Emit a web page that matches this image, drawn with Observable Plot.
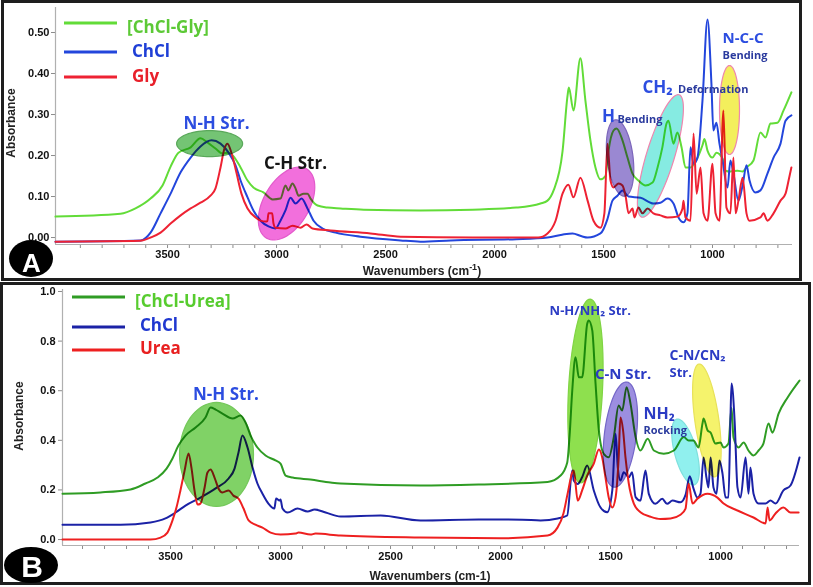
<!DOCTYPE html>
<html>
<head>
<meta charset="utf-8">
<script src="https://cdn.jsdelivr.net/npm/d3@7"></script>
<script src="https://cdn.jsdelivr.net/npm/@observablehq/plot@0.6"></script>
<style>
  body { margin: 0; background: #fff; }
  #root { position: relative; width: 813px; height: 587px; overflow: hidden; background: #fff; }
  .plotbox { position: absolute; left: 0; }
  #root svg { display: block; }
  #overlay { position: absolute; left: 0; top: 0; pointer-events: none; }
  [aria-label="dot"] { mix-blend-mode: multiply; }
  [aria-label$="axis tick"] path, [aria-label$="-axis"] .tick line { stroke: #8c8c8c; }
</style>
</head>
<body>
<div id="root">
  <div id="plotA" class="plotbox" style="top:0px"></div>
  <div id="plotB" class="plotbox" style="top:281px"></div>
  <svg id="overlay" width="813" height="587"></svg>
</div>
<script>
// ---------------- DATA (wavenumber cm-1, absorbance) ----------------
// Panel A
const mixGlyA = [[4014,0.051],[3716,0.058],[3647,0.071],[3578,0.095],[3523,0.127],[3486,0.173],[3450,0.207],[3394,0.220],[3349,0.242],[3317,0.232],[3280,0.217],[3248,0.205],[3220,0.207],[3206,0.203],[3165,0.171],[3133,0.139],[3106,0.122],[3060,0.110],[3018,0.093],[2982,0.095],[2959,0.127],[2946,0.115],[2927,0.132],[2913,0.120],[2899,0.102],[2876,0.107],[2858,0.107],[2844,0.095],[2812,0.078],[2766,0.073],[2706,0.071],[2600,0.068],[2340,0.066],[2100,0.068],[1900,0.073],[1789,0.083],[1757,0.090],[1729,0.115],[1688,0.210],[1665,0.346],[1659,0.366],[1638,0.310],[1606,0.437],[1583,0.334],[1560,0.237],[1537,0.171],[1514,0.142],[1491,0.150],[1477,0.212],[1454,0.261],[1440,0.266],[1413,0.237],[1390,0.195],[1367,0.156],[1340,0.139],[1307,0.127],[1275,0.134],[1252,0.171],[1230,0.220],[1211,0.278],[1202,0.285],[1179,0.229],[1161,0.256],[1142,0.220],[1124,0.171],[1101,0.171],[1078,0.185],[1046,0.225],[1037,0.240],[1023,0.212],[1000,0.195],[982,0.207],[954,0.193],[941,0.163],[918,0.161],[885,0.163],[862,0.161],[844,0.171],[812,0.188],[780,0.256],[757,0.244],[734,0.278],[702,0.280],[674,0.310],[638,0.354]];
const chclA = [[4014,-0.010],[3624,-0.007],[3578,0.012],[3532,0.059],[3486,0.107],[3440,0.159],[3394,0.195],[3349,0.222],[3298,0.237],[3257,0.229],[3220,0.207],[3188,0.176],[3165,0.139],[3133,0.098],[3106,0.066],[3073,0.041],[3037,0.027],[3005,0.022],[2982,0.041],[2959,0.066],[2936,0.097],[2913,0.083],[2885,0.095],[2858,0.071],[2830,0.041],[2789,0.022],[2729,0.012],[2615,0.002],[2431,-0.007],[2340,-0.010],[2200,-0.007],[1900,-0.004],[1757,0.000],[1690,0.007],[1642,0.010],[1600,0.003],[1573,0.000],[1514,0.010],[1482,0.045],[1459,0.090],[1436,0.102],[1413,0.115],[1385,0.100],[1330,0.097],[1271,0.083],[1239,0.085],[1207,0.095],[1179,0.083],[1156,0.049],[1133,0.037],[1115,0.059],[1101,0.220],[1087,0.180],[1069,0.195],[1046,0.334],[1023,0.532],[1005,0.376],[996,0.261],[982,0.280],[968,0.229],[954,0.188],[931,0.122],[918,0.188],[904,0.156],[881,0.090],[862,0.127],[844,0.176],[830,0.139],[803,0.110],[780,0.115],[748,0.156],[720,0.195],[688,0.229],[665,0.285],[638,0.298]];
const glyA = [[4014,-0.010],[3624,-0.008],[3578,0.000],[3532,0.012],[3486,0.034],[3440,0.054],[3394,0.071],[3349,0.085],[3303,0.102],[3280,0.120],[3257,0.171],[3239,0.217],[3225,0.229],[3206,0.205],[3183,0.156],[3161,0.107],[3133,0.071],[3096,0.049],[3050,0.039],[3042,0.040],[3037,0.059],[3020,0.059],[3014,0.034],[3005,0.024],[2959,0.022],[2927,0.029],[2890,0.024],[2862,0.032],[2835,0.022],[2752,0.017],[2569,0.010],[2431,0.002],[2100,0.000],[1800,0.000],[1757,0.010],[1720,0.041],[1688,0.107],[1661,0.129],[1638,0.098],[1606,0.146],[1573,0.090],[1546,0.041],[1514,0.024],[1496,0.059],[1482,0.229],[1468,0.139],[1454,0.122],[1431,0.132],[1413,0.127],[1399,0.102],[1385,0.059],[1367,0.071],[1358,0.049],[1340,0.073],[1321,0.059],[1298,0.071],[1271,0.059],[1239,0.054],[1207,0.049],[1161,0.051],[1138,0.070],[1133,0.090],[1124,0.049],[1101,0.041],[1087,0.254],[1073,0.107],[1055,0.171],[1041,0.059],[1023,0.041],[1000,0.180],[986,0.059],[968,0.041],[950,0.310],[936,0.073],[918,0.059],[904,0.195],[894,0.059],[881,0.090],[862,0.146],[844,0.059],[830,0.041],[780,0.049],[766,0.059],[748,0.041],[720,0.059],[688,0.090],[665,0.107],[651,0.139],[638,0.171]];

// Panel B
const mixUreaB = [[3991,0.185],[3818,0.190],[3682,0.202],[3614,0.226],[3559,0.250],[3518,0.286],[3491,0.327],[3464,0.379],[3432,0.419],[3386,0.452],[3341,0.492],[3318,0.532],[3295,0.524],[3264,0.508],[3218,0.488],[3182,0.500],[3159,0.472],[3136,0.419],[3105,0.371],[3068,0.339],[3023,0.319],[3000,0.306],[2977,0.258],[2945,0.250],[2864,0.242],[2773,0.230],[2727,0.226],[2364,0.218],[2100,0.222],[1786,0.232],[1727,0.258],[1697,0.310],[1686,0.420],[1674,0.600],[1659,0.735],[1644,0.654],[1629,0.654],[1606,0.870],[1599,0.883],[1583,0.843],[1568,0.628],[1553,0.440],[1531,0.346],[1508,0.332],[1485,0.413],[1463,0.540],[1447,0.520],[1427,0.614],[1409,0.547],[1386,0.413],[1364,0.359],[1331,0.406],[1303,0.359],[1258,0.346],[1212,0.359],[1167,0.413],[1145,0.399],[1123,0.399],[1100,0.371],[1082,0.468],[1077,0.488],[1059,0.440],[1045,0.431],[1023,0.387],[1000,0.391],[986,0.371],[964,0.387],[950,0.530],[941,0.411],[918,0.371],[895,0.391],[873,0.359],[850,0.339],[827,0.359],[805,0.387],[782,0.468],[764,0.431],[736,0.508],[695,0.573],[641,0.641]];
const chclB = [[3991,0.060],[3727,0.060],[3591,0.069],[3523,0.085],[3477,0.109],[3432,0.137],[3364,0.169],[3295,0.206],[3236,0.246],[3209,0.286],[3191,0.351],[3173,0.419],[3150,0.371],[3127,0.290],[3105,0.226],[3082,0.185],[3055,0.145],[3028,0.125],[3020,0.165],[3005,0.157],[3000,0.161],[2991,0.125],[2968,0.109],[2923,0.125],[2877,0.113],[2845,0.121],[2795,0.109],[2727,0.093],[2545,0.097],[2364,0.077],[2100,0.081],[1900,0.080],[1818,0.077],[1740,0.085],[1697,0.097],[1674,0.278],[1667,0.238],[1649,0.224],[1629,0.251],[1606,0.298],[1576,0.198],[1546,0.130],[1515,0.110],[1492,0.198],[1477,0.426],[1467,0.292],[1455,0.238],[1440,0.271],[1417,0.251],[1402,0.271],[1386,0.171],[1364,0.157],[1341,0.278],[1326,0.184],[1296,0.144],[1265,0.164],[1243,0.144],[1218,0.157],[1182,0.150],[1159,0.180],[1140,0.255],[1123,0.206],[1105,0.169],[1091,0.185],[1077,0.331],[1064,0.250],[1055,0.210],[1045,0.331],[1032,0.210],[1018,0.185],[1005,0.319],[991,0.266],[977,0.169],[964,0.169],[955,0.480],[950,0.629],[936,0.480],[923,0.210],[909,0.169],[886,0.331],[873,0.185],[864,0.290],[850,0.185],[827,0.145],[795,0.145],[773,0.157],[750,0.145],[714,0.198],[682,0.218],[641,0.331]];
const ureaB = [[3991,0.000],[3591,0.000],[3545,0.008],[3514,0.028],[3491,0.077],[3473,0.129],[3455,0.198],[3436,0.278],[3418,0.347],[3405,0.290],[3391,0.198],[3377,0.141],[3364,0.145],[3345,0.210],[3332,0.270],[3318,0.282],[3300,0.250],[3282,0.206],[3264,0.190],[3236,0.198],[3214,0.177],[3191,0.165],[3168,0.125],[3145,0.077],[3114,0.060],[3082,0.048],[3045,0.028],[3000,0.020],[2932,0.024],[2918,0.028],[2864,0.020],[2841,0.024],[2727,0.016],[2364,0.008],[2000,0.005],[1786,0.016],[1741,0.048],[1714,0.105],[1695,0.185],[1674,0.270],[1667,0.278],[1649,0.157],[1629,0.198],[1606,0.258],[1576,0.306],[1553,0.363],[1538,0.332],[1523,0.251],[1508,0.169],[1492,0.129],[1477,0.169],[1463,0.331],[1455,0.492],[1443,0.440],[1432,0.331],[1417,0.226],[1394,0.145],[1364,0.110],[1318,0.092],[1273,0.083],[1227,0.085],[1182,0.100],[1159,0.125],[1145,0.226],[1127,0.145],[1105,0.165],[1059,0.185],[1014,0.169],[986,0.145],[923,0.117],[850,0.089],[795,0.065],[786,0.129],[777,0.077],[750,0.105],[714,0.129],[682,0.109],[645,0.109]];

// Series names
const namesA = ["[ChCl-Gly]", "ChCl", "Gly"];
const namesB = ["[ChCl-Urea]", "ChCl", "Urea"];

// Tick values
const xTickValues = [3500, 3000, 2500, 2000, 1500, 1000];
const yTicksA = [0, 0.1, 0.2, 0.3, 0.4, 0.5];
const yTicksB = [0, 0.2, 0.4, 0.6, 0.8, 1.0];

// Band-assignment annotations (text, wavenumber, absorbance, style key)
const bandsA = [
  ["N-H Str.", 3275, 0.279, "big"], ["C-H Str.", 2913, 0.180, "dark"],
  ["H", 1477, 0.294, "bigc"], ["Bending", 1436, 0.289, "small"],
  ["CH\u2082", 1321, 0.365, "bigs"], ["Deformation", 1158, 0.362, "small"],
  ["N-C-C", 954, 0.487, "mid"], ["Bending", 954, 0.444, "small"]
];
const bandsB = [
  ["N-H Str.", 3248, 0.585, "big"],
  ["N-H/NH\u2082 Str.", 1777, 0.923, "m13"],
  ["C-N Str.", 1443, 0.665, "midc"],
  ["NH\u2082", 1350, 0.508, "m16"], ["Rocking", 1350, 0.441, "small"],
  ["C-N/CN\u2082", 1232, 0.742, "m14"], ["Str.", 1232, 0.671, "m13"]
];
// Highlight ellipse centres (wavenumber, absorbance)
const ellipsesA = [[3307, 0.229], [2954, 0.083], [1424, 0.194], [1239, 0.199], [922, 0.311]];
const ellipsesB = [[3291, 0.343], [1614, 0.599], [1455, 0.423], [1159, 0.353], [1062, 0.480]];

// ---------------- STYLES ----------------
const FONT = "'Open Sans', 'DejaVu Sans', sans-serif";
const AXFONT = "'Liberation Sans', Arial, sans-serif";
const colorsA = ["#62dc38", "#2346dc", "#ee2233"];
const colorsB = ["#2f9c24", "#1b22a6", "#ee2020"];
const legendTextA = ["#5cc936", "#1f3fd6", "#e8202a"];
const legendTextB = ["#57cc2e", "#2038d0", "#e82020"];
const labelStyle = {
  big: {size: 17, color: "#2c4de0", anchor: "middle"},
  dark: {size: 17, color: "#151515", anchor: "middle"},
  bigc: {size: 17, color: "#2c4de0", anchor: "middle"},
  bigs: {size: 17, color: "#2c4de0", anchor: "start"},
  small: {size: 11, color: "#2a3a9e", anchor: "start"},
  mid: {size: 15, color: "#2c4de0", anchor: "start"},
  midc: {size: 15, color: "#2b3bc4", anchor: "middle"},
  m13: {size: 13, color: "#2b3bc4", anchor: "start"},
  m14: {size: 14, color: "#2b3bc4", anchor: "start"},
  m16: {size: 16, color: "#2b3bc4", anchor: "start"}
};
// ellipse shapes in px: [rx, ry, rotation deg, fill, stroke]
const ellStyleA = [
  [33, 13, 0, "#74c474", "#5aa85a"],
  [23, 40, 30, "#f26fdc", "#e35acb"],
  [13, 38.5, -7, "#9a88d2", "#7c66bb"],
  [14, 64, 17, "#86ebe2", "#ee86ae"],
  [10, 44.5, 0, "#f3ef5c", "#ee86ae"]
];
const ellStyleB = [
  [37, 52, 0, "#80d266", "#74c85a"],
  [17, 92, 3, "#8ee04e", "#80d444"],
  [16, 53, 7, "#9c8ee0", "#7466c8"],
  [11, 34, -15, "#90f0ee", "#7ee0dd"],
  [12, 57, -8, "#f5f36c", "#e8e25a"]
];

function ellipseSymbol(rx, ry, deg) {
  return {
    draw(ctx) {
      const t = deg * Math.PI / 180, c = Math.cos(t), s = Math.sin(t);
      const n = 72;
      for (let i = 0; i <= n; i++) {
        const u = 2 * Math.PI * i / n;
        const ex = rx * Math.cos(u), ey = ry * Math.sin(u);
        const px = ex * c - ey * s, py = ex * s + ey * c;
        if (i === 0) ctx.moveTo(px, py); else ctx.lineTo(px, py);
      }
      ctx.closePath();
    }
  };
}

function buildPanel({series, colors, xDomain, yDomain, yTicks, yFmt, ellipses, ellStyles, bands, width, height, margins, tickPad}) {
  const marks = [];
  marks.push(Plot.ruleX([xDomain[0]], {stroke: "#b0b0b0", strokeWidth: 1.2}));
  marks.push(Plot.ruleY([yDomain[0]], {stroke: "#b0b0b0", strokeWidth: 1.2}));
  series.forEach((s, i) => {
    marks.push(Plot.line(s, {x: d => d[0], y: d => d[1], stroke: colors[i], strokeWidth: 2, curve: "monotone-x", strokeLinejoin: "round"}));
  });
  ellipses.forEach((e, i) => {
    const [rx, ry, rot, fill, stroke] = ellStyles[i];
    marks.push(Plot.dot([e], {x: d => d[0], y: d => d[1], r: 10, symbol: ellipseSymbol(rx, ry, rot), fill, stroke, strokeWidth: 1.2, mixBlendMode: "multiply"}));
  });
  bands.forEach(b => {
    const st = labelStyle[b[3]];
    marks.push(Plot.text([b], {x: d => d[1], y: d => d[2], text: d => d[0], fill: st.color, fontSize: st.size, fontWeight: "bold", fontFamily: FONT, textAnchor: st.anchor}));
  });
  return Plot.plot({
    width, height,
    marginLeft: margins[0], marginRight: margins[1], marginTop: margins[2], marginBottom: margins[3],
    style: {fontFamily: AXFONT, fontSize: "11px", fontWeight: "bold", color: "#111", background: "transparent", overflow: "visible"},
    x: {domain: xDomain, ticks: d3.range(700, 4000, 100), tickFormat: d => xTickValues.includes(d) ? String(d) : "", tickSize: 4, tickPadding: tickPad[0], label: null},
    y: {domain: yDomain, ticks: yTicks, tickFormat: yFmt, tickSize: 4, tickPadding: tickPad[1], label: null},
    marks
  });
}

document.getElementById("plotA").append(buildPanel({
  series: [mixGlyA, chclA, glyA], colors: colorsA,
  xDomain: [4014, 633], yDomain: [-0.017, 0.561], yTicks: yTicksA, yFmt: d3.format(".2f"),
  ellipses: ellipsesA, ellStyles: ellStyleA, bands: bandsA,
  width: 813, height: 280, margins: [55, 21, 7, 36], tickPad: [2, 2]
}));
document.getElementById("plotB").append(buildPanel({
  series: [mixUreaB, chclB, ureaB], colors: colorsB,
  xDomain: [3991, 641], yDomain: [-0.024, 1.008], yTicks: yTicksB, yFmt: d3.format(".1f"),
  ellipses: ellipsesB, ellStyles: ellStyleB, bands: bandsB,
  width: 813, height: 306, margins: [62, 14, 8, 42], tickPad: [3, 3]
}));

// ---------------- overlay: frames, legends, axis titles, badges ----------------
const ov = d3.select("#overlay");
ov.append("rect").attr("x", 2.5).attr("y", 1.5).attr("width", 798).attr("height", 278)
  .attr("fill", "none").attr("stroke", "#1e1e1e").attr("stroke-width", 3);
ov.append("rect").attr("x", 1.5).attr("y", 283.5).attr("width", 808).attr("height", 300)
  .attr("fill", "none").attr("stroke", "#1e1e1e").attr("stroke-width", 3);

function legend(names, lineColors, textColors, x0, x1, tx, ys, baselines) {
  names.forEach((n, i) => {
    ov.append("line").attr("x1", x0).attr("x2", x1).attr("y1", ys[i]).attr("y2", ys[i])
      .attr("stroke", lineColors[i]).attr("stroke-width", 3);
    ov.append("text").attr("x", tx[i]).attr("y", baselines[i]).text(n)
      .attr("fill", textColors[i]).attr("font-family", FONT).attr("font-weight", 700).attr("font-size", 17);
  });
}
legend(namesA, colorsA, legendTextA, 64, 117, [127, 132, 132], [23, 52, 77], [33, 57, 82]);
legend(namesB, colorsB, legendTextB, 72, 125, [135, 140, 140], [297, 327, 350], [307, 331, 354]);

function yTitle(x, y) {
  ov.append("text").attr("transform", `translate(${x},${y}) rotate(-90)`).attr("text-anchor", "middle")
    .attr("font-family", AXFONT).attr("font-weight", 700).attr("font-size", 12).attr("fill", "#222").text("Absorbance");
}
yTitle(15, 123);
yTitle(23, 416);

const xtA = ov.append("text").attr("x", 422).attr("y", 275).attr("text-anchor", "middle")
  .attr("font-family", AXFONT).attr("font-weight", 700).attr("font-size", 12).attr("fill", "#222");
xtA.append("tspan").text("Wavenumbers (cm");
xtA.append("tspan").attr("dy", -5).attr("font-size", 9).text("-1");
xtA.append("tspan").attr("dy", 5).text(")");
ov.append("text").attr("x", 430).attr("y", 580).attr("text-anchor", "middle")
  .attr("font-family", AXFONT).attr("font-weight", 700).attr("font-size", 12).attr("fill", "#222")
  .text("Wavenumbers (cm-1)");

function badge(cx, cy, rx, ry, letter, size, bx, by) {
  ov.append("ellipse").attr("cx", cx).attr("cy", cy).attr("rx", rx).attr("ry", ry).attr("fill", "#000");
  ov.append("text").attr("x", bx).attr("y", by).attr("text-anchor", "middle").attr("fill", "#fff")
    .attr("font-family", AXFONT).attr("font-weight", 700).attr("font-size", size).text(letter);
}
badge(31, 258.5, 22, 18.5, "A", 26, 31.5, 272);
badge(31, 565, 27, 18, "B", 30, 32, 577);
</script>
</body>
</html>
